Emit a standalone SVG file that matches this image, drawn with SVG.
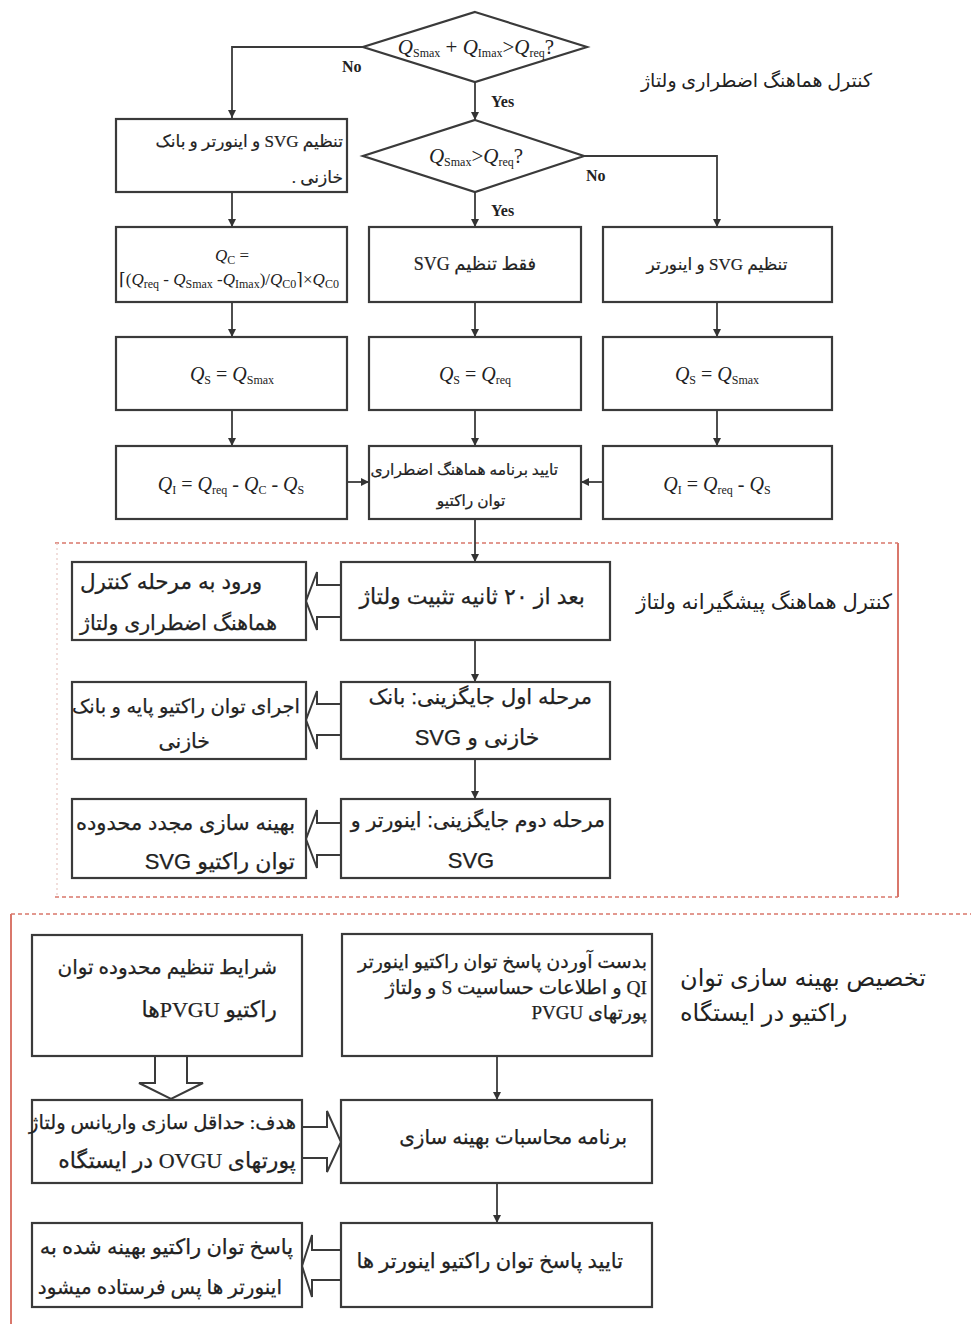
<svg xmlns="http://www.w3.org/2000/svg" width="971" height="1324" viewBox="0 0 971 1324">
<defs>
<marker id="ah" viewBox="0 0 8 8" refX="8" refY="4" markerWidth="8" markerHeight="8" markerUnits="userSpaceOnUse" orient="auto">
<path d="M0,0 L8,4 L0,8 z" fill="#333"/>
</marker>
<style>
.box{fill:#fff;stroke:#3a3a3a;stroke-width:2.2}
.dia{fill:#fff;stroke:#3a3a3a;stroke-width:2.2}
.con{fill:none;stroke:#3a3a3a;stroke-width:1.8;marker-end:url(#ah)}
.blk{fill:#fff;stroke:#3a3a3a;stroke-width:2}
.red{fill:none;stroke:#d9776b;stroke-width:1.6;stroke-dasharray:4 3}
.reds{fill:none;stroke:#d9776b;stroke-width:2}
.redl{fill:none;stroke:#e8c9c4;stroke-width:1.2;stroke-dasharray:2 3}
.fm{font-family:"Liberation Serif","DejaVu Serif",serif;font-size:20px;fill:#222}
.fm .i{font-style:italic}
.fm .s{font-size:12px}
.yn{font-family:"Liberation Serif",serif;font-size:16px;font-weight:bold;fill:#222}
.ta{font-family:"Liberation Serif","DejaVu Sans",sans-serif;font-size:17px;fill:#222;stroke:#222;stroke-width:0.2}
.tb{font-family:"Liberation Sans","DejaVu Sans",sans-serif;font-size:20.5px;fill:#222;stroke:#222;stroke-width:0.25}
.tc{font-family:"Liberation Serif","DejaVu Sans",sans-serif;font-size:20px;fill:#222;stroke:#222;stroke-width:0.25}
.lab{font-family:"Liberation Sans","DejaVu Sans",sans-serif;font-size:21px;fill:#222}
</style>
</defs>
<rect width="971" height="1324" fill="#fff"/>

<g id="frames">
<path class="red" d="M55,543 H898"/>
<path class="reds" d="M898,543 V897"/>
<path class="red" d="M55,897 H898"/>
<path class="redl" d="M57,543 V897"/>
<path class="red" d="M11,914 H971"/>
<path class="reds" d="M11,914 V1324"/>
</g>

<g id="connectors">
<polyline class="con" points="363,47 232,47 232,118"/>
<line class="con" x1="475" y1="82" x2="475" y2="120"/>
<polyline class="con" points="584,156 717,156 717,227"/>
<line class="con" x1="475" y1="192" x2="475" y2="227"/>
<line class="con" x1="232" y1="192" x2="232" y2="227"/>
<line class="con" x1="232" y1="302" x2="232" y2="337"/>
<line class="con" x1="232" y1="410" x2="232" y2="446"/>
<line class="con" x1="475" y1="302" x2="475" y2="337"/>
<line class="con" x1="475" y1="410" x2="475" y2="446"/>
<line class="con" x1="717" y1="302" x2="717" y2="337"/>
<line class="con" x1="717" y1="410" x2="717" y2="446"/>
<line class="con" x1="347" y1="482" x2="369" y2="482"/>
<line class="con" x1="603" y1="482" x2="581" y2="482"/>
<line class="con" x1="475" y1="519" x2="475" y2="562"/>
<line class="con" x1="475" y1="640" x2="475" y2="682"/>
<line class="con" x1="475" y1="759" x2="475" y2="799"/>
<line class="con" x1="497" y1="1056" x2="497" y2="1100"/>
<line class="con" x1="497" y1="1183" x2="497" y2="1223"/>
<path class="blk" d="M341,585 H317 V572 L306,601 L317,630 V617 H341"/>
<path class="blk" d="M341,704 H317 V691 L306,720 L317,749 V735 H341"/>
<path class="blk" d="M341,823 H317 V810 L306,839 L317,868 V855 H341"/>
<path class="blk" d="M155,1056 V1083 H139 L171,1099 L203,1083 H187 V1056"/>
<path class="blk" d="M302,1127 H327 V1111 L341,1142 L327,1172 V1158 H302"/>
<path class="blk" d="M341,1250 H312 V1235 L302,1266 L312,1297 V1280 H341"/>
<text class="yn" x="342" y="72">No</text>
<text class="yn" x="491" y="107">Yes</text>
<text class="yn" x="586" y="181">No</text>
<text class="yn" x="491" y="216">Yes</text>
</g>

<g id="labels">
<text class="ta" style="font-size:19px;stroke-width:0" x="872" y="87" direction="rtl" text-anchor="start">کنترل هماهنگ اضطراری ولتاژ</text>
<text class="lab" x="892" y="609" direction="rtl" text-anchor="start">کنترل هماهنگ پیشگیرانه ولتاژ</text>
<text class="lab" style="font-size:24px" x="680" y="986" direction="rtl" text-anchor="end">تخصیص بهینه سازی توان</text>
<text class="lab" style="font-size:24px" x="680" y="1021" direction="rtl" text-anchor="end">راکتیو در ایستگاه</text>
</g>

<g id="d1">
<polygon class="dia" points="475,12 587,47 475,82 363,47"/>
<text class="fm" style="font-size:21px" x="476" y="54" text-anchor="middle"><tspan class="i">Q</tspan><tspan class="s" dy="3">Smax</tspan><tspan dy="-3"> + </tspan><tspan class="i">Q</tspan><tspan class="s" dy="3">Imax</tspan><tspan dy="-3">&gt;</tspan><tspan class="i">Q</tspan><tspan class="s" dy="3">req</tspan><tspan dy="-3">?</tspan></text>
</g>
<g id="d2">
<polygon class="dia" points="475,120 584,156 475,192 363,156"/>
<text class="fm" style="font-size:21px" x="476" y="163" text-anchor="middle"><tspan class="i">Q</tspan><tspan class="s" dy="3">Smax</tspan><tspan dy="-3">&gt;</tspan><tspan class="i">Q</tspan><tspan class="s" dy="3">req</tspan><tspan dy="-3">?</tspan></text>
</g>
<g id="n-all">
<rect class="box" x="116" y="119" width="231" height="73"/>
<text class="ta" x="343" y="147" direction="rtl" text-anchor="start">تنظیم SVG و اینورتر و بانک</text>
<text class="ta" x="343" y="183" direction="rtl" text-anchor="start">خازنی .</text>
</g>
<g id="n-qc">
<rect class="box" x="116" y="227" width="231" height="75"/>
<text class="fm" style="font-size:17px" x="232" y="261" text-anchor="middle"><tspan class="i">Q</tspan><tspan class="s" dy="3">C</tspan><tspan dy="-3"> =</tspan></text>
<text class="fm" style="font-size:17px" x="229" y="285" text-anchor="middle">⌈(<tspan class="i">Q</tspan><tspan class="s" dy="3">req</tspan><tspan dy="-3"> - </tspan><tspan class="i">Q</tspan><tspan class="s" dy="3">Smax</tspan><tspan dy="-3"> -</tspan><tspan class="i">Q</tspan><tspan class="s" dy="3">Imax</tspan><tspan dy="-3">)/</tspan><tspan class="i">Q</tspan><tspan class="s" dy="3">C0</tspan><tspan dy="-3">⌉×</tspan><tspan class="i">Q</tspan><tspan class="s" dy="3">C0</tspan></text>
</g>
<g id="n-svgonly">
<rect class="box" x="369" y="227" width="212" height="75"/>
<text class="ta" style="font-size:18px" x="475" y="270" direction="rtl" text-anchor="middle">فقط تنظیم SVG</text>
</g>
<g id="n-svginv">
<rect class="box" x="603" y="227" width="229" height="75"/>
<text class="ta" x="717" y="270" direction="rtl" text-anchor="middle">تنظیم SVG و اینورتر</text>
</g>
<g id="n-qs1">
<rect class="box" x="116" y="337" width="231" height="73"/>
<text class="fm" x="232" y="381" text-anchor="middle"><tspan class="i">Q</tspan><tspan class="s" dy="3">S</tspan><tspan dy="-3"> = </tspan><tspan class="i">Q</tspan><tspan class="s" dy="3">Smax</tspan></text>
</g>
<g id="n-qs2">
<rect class="box" x="369" y="337" width="212" height="73"/>
<text class="fm" x="475" y="381" text-anchor="middle"><tspan class="i">Q</tspan><tspan class="s" dy="3">S</tspan><tspan dy="-3"> = </tspan><tspan class="i">Q</tspan><tspan class="s" dy="3">req</tspan></text>
</g>
<g id="n-qs3">
<rect class="box" x="603" y="337" width="229" height="73"/>
<text class="fm" x="717" y="381" text-anchor="middle"><tspan class="i">Q</tspan><tspan class="s" dy="3">S</tspan><tspan dy="-3"> = </tspan><tspan class="i">Q</tspan><tspan class="s" dy="3">Smax</tspan></text>
</g>
<g id="n-qi1">
<rect class="box" x="116" y="446" width="231" height="73"/>
<text class="fm" x="231" y="491" text-anchor="middle"><tspan class="i">Q</tspan><tspan class="s" dy="3">I</tspan><tspan dy="-3"> = </tspan><tspan class="i">Q</tspan><tspan class="s" dy="3">req</tspan><tspan dy="-3"> - </tspan><tspan class="i">Q</tspan><tspan class="s" dy="3">C</tspan><tspan dy="-3">   - </tspan><tspan class="i">Q</tspan><tspan class="s" dy="3">S</tspan></text>
</g>
<g id="n-confirm">
<rect class="box" x="369" y="446" width="212" height="73"/>
<text class="ta" style="font-size:15.5px" x="558" y="475" direction="rtl" text-anchor="start">تایید برنامه هماهنگ اضطراری</text>
<text class="ta" style="font-size:15.5px" x="471" y="506" direction="rtl" text-anchor="middle">توان راکتیو</text>
</g>
<g id="n-qi3">
<rect class="box" x="603" y="446" width="229" height="73"/>
<text class="fm" x="717" y="491" text-anchor="middle"><tspan class="i">Q</tspan><tspan class="s" dy="3">I</tspan><tspan dy="-3"> = </tspan><tspan class="i">Q</tspan><tspan class="s" dy="3">req</tspan><tspan dy="-3"> - </tspan><tspan class="i">Q</tspan><tspan class="s" dy="3">S</tspan></text>
</g>

<g id="n-20s">
<rect class="box" x="341" y="562" width="269" height="78"/>
<text class="tb" style="font-size:22px" x="585" y="604" direction="rtl" text-anchor="start">بعد از ۲۰ ثانیه تثبیت ولتاژ</text>
</g>
<g id="n-enter">
<rect class="box" x="72" y="562" width="234" height="78"/>
<text class="tb" style="font-size:21.5px" x="80" y="589" direction="rtl" text-anchor="end">ورود به مرحله کنترل</text>
<text class="tb" style="font-size:20.5px" x="80" y="630" direction="rtl" text-anchor="end">هماهنگ اضطراری ولتاژ</text>
</g>
<g id="n-stage1">
<rect class="box" x="341" y="682" width="269" height="77"/>
<text class="tb" style="font-size:21px" x="592" y="704" direction="rtl" text-anchor="start">مرحله اول جایگزینی: بانک</text>
<text class="tb" style="font-size:22px" x="477" y="745" direction="rtl" text-anchor="middle">خازنی و SVG</text>
</g>
<g id="n-base">
<rect class="box" x="72" y="682" width="234" height="77"/>
<text class="tb" style="font-size:19.5px" x="300" y="713" direction="rtl" text-anchor="start">اجرای توان راکتیو پایه و بانک</text>
<text class="tb" x="210" y="748" direction="rtl" text-anchor="start">خازنی</text>
</g>
<g id="n-stage2">
<rect class="box" x="341" y="799" width="269" height="79"/>
<text class="tb" style="font-size:20.5px" x="605" y="827" direction="rtl" text-anchor="start">مرحله دوم جایگزینی: اینورتر و</text>
<text class="tb" style="font-size:22px" x="471" y="868" text-anchor="middle">SVG</text>
</g>
<g id="n-reopt">
<rect class="box" x="72" y="799" width="234" height="79"/>
<text class="tb" style="font-size:21px" x="295" y="830" direction="rtl" text-anchor="start">بهینه سازی مجدد محدوده</text>
<text class="tb" style="font-size:22px" x="295" y="869" direction="rtl" text-anchor="start">توان راکتیو SVG</text>
</g>

<g id="n-get">
<rect class="box" x="342" y="934" width="310" height="122"/>
<text class="tc" style="font-size:19px" x="647" y="968" direction="rtl" text-anchor="start">بدست آوردن پاسخ توان راکتیو اینورتر</text>
<text class="tc" style="font-size:19.5px" x="647" y="994" direction="rtl" text-anchor="start">QI و اطلاعات حساسیت S و ولتاژ</text>
<text class="tc" style="font-size:19px" x="647" y="1019" direction="rtl" text-anchor="start">پورتهای PVGU</text>
</g>
<g id="n-cond">
<rect class="box" x="32" y="935" width="270" height="121"/>
<text class="tc" x="277" y="974" direction="rtl" text-anchor="start">شرایط تنظیم محدوده توان</text>
<text class="tc" style="font-size:22px" x="277" y="1017" direction="rtl" text-anchor="start">راکتیو PVGUها</text>
</g>
<g id="n-goal">
<rect class="box" x="32" y="1100" width="270" height="83"/>
<text class="tc" style="font-size:19.5px" x="296" y="1129" direction="rtl" text-anchor="start">هدف: حداقل سازی واریانس ولتاژ</text>
<text class="tc" style="font-size:22px" x="296" y="1168" direction="rtl" text-anchor="start">پورتهای OVGU در ایستگاه</text>
</g>
<g id="n-calc">
<rect class="box" x="341" y="1100" width="311" height="83"/>
<text class="tc" x="627" y="1144" direction="rtl" text-anchor="start">برنامه محاسبات بهینه سازی</text>
</g>
<g id="n-send">
<rect class="box" x="32" y="1223" width="270" height="84"/>
<text class="tc" style="font-size:21px" x="293" y="1254" direction="rtl" text-anchor="start">پاسخ توان راکتیو بهینه شده به</text>
<text class="tc" x="282" y="1294" direction="rtl" text-anchor="start">اینورتر ها پس فرستاده میشود</text>
</g>
<g id="n-verify">
<rect class="box" x="341" y="1223" width="311" height="84"/>
<text class="tc" style="font-size:21px" x="623" y="1268" direction="rtl" text-anchor="start">تایید پاسخ توان راکتیو اینورتر ها</text>
</g>
</svg>
